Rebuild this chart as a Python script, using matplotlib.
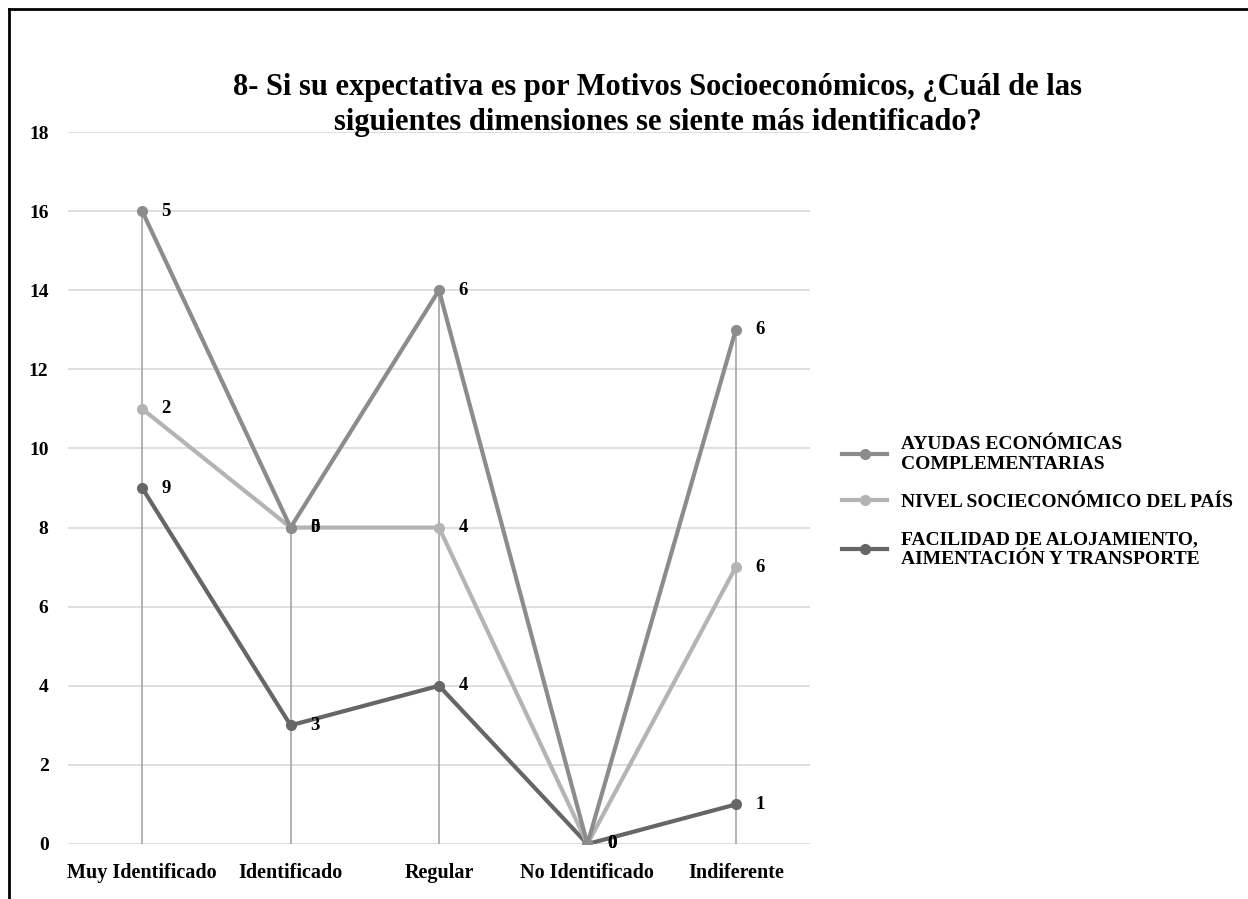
import numpy as np
import matplotlib.pyplot as plt
from matplotlib.lines import Line2D

# Datos (gráfico de líneas apiladas)
categorias = ['Muy Identificado', 'Identificado', 'Regular', 'No Identificado', 'Indiferente']
facilidad = [9, 3, 4, 0, 1]
nivel = [2, 5, 4, 0, 6]
ayudas = [5, 0, 6, 0, 6]

nombres = ['FACILIDAD DE ALOJAMIENTO,\nAIMENTACIÓN Y TRANSPORTE',
           'NIVEL SOCIECONÓMICO DEL PAÍS',
           'AYUDAS ECONÓMICAS\nCOMPLEMENTARIAS']
colores = ['#666666', '#b4b4b4', '#8c8c8c']

plt.rcParams['font.family'] = ['Liberation Serif', 'DejaVu Serif']
plt.rcParams['font.weight'] = 'bold'

fig = plt.figure(figsize=(12.48, 8.99), dpi=100)
ax = fig.add_axes([68/1248, 1-844/899, (810-68)/1248, (844-132)/899])

x = np.arange(len(categorias))
series = [facilidad, nivel, ayudas]
acumulado = np.cumsum(np.array(series), axis=0)

# Líneas de unión (drop lines)
tope = acumulado.max(axis=0)
ax.vlines(x, 0, tope, color='#a6a6a6', lw=1.2, zorder=1)

lineas = []
for vals, acum, nombre, col in zip(series, acumulado, nombres, colores):
    ln, = ax.plot(x, acum, color=col, lw=3, marker='o', ms=7, zorder=3, label=nombre)
    lineas.append(ln)
    for xi, yi, v in zip(x, acum, vals):
        ax.annotate(str(v), (xi, yi), xytext=(14, 0), textcoords='offset points',
                    ha='left', va='center', fontsize=13.5, fontweight='bold')

ax.set_xlim(-0.5, 4.5)
ax.set_ylim(0, 18)
ax.set_yticks(range(0, 19, 2))
ax.set_xticks(x)
ax.set_xticklabels(categorias, fontsize=14.5, fontweight='bold')
ax.tick_params(axis='y', labelsize=14, length=0, pad=14)
ax.tick_params(axis='x', length=0, pad=14)
ax.yaxis.grid(True, color='#d9d9d9', lw=1.2)
ax.set_axisbelow(True)
for s in ax.spines.values():
    s.set_visible(False)

# Leyenda (orden invertido)
ax.legend(handles=lineas[::-1], loc='center left', bbox_to_anchor=(1.02, 0.48),
          frameon=False, handlelength=2.3, handletextpad=0.7, labelspacing=1.05,
          prop={'weight': 'bold', 'size': 14})

fig.text(0.527, 0.883, '8- Si su expectativa es por Motivos Socioeconómicos, ¿Cuál de las\n'
         'siguientes dimensiones se siente más identificado?',
         ha='center', va='center', fontsize=22, fontweight='bold', linespacing=1.3)

# Borde del gráfico
fig.add_artist(Line2D([9/1248, 9/1248], [0, 1-9/899], transform=fig.transFigure, color='black', lw=2))
fig.add_artist(Line2D([9/1248, 1], [1-9/899, 1-9/899], transform=fig.transFigure, color='black', lw=2))

plt.savefig('out.png', dpi=100)
